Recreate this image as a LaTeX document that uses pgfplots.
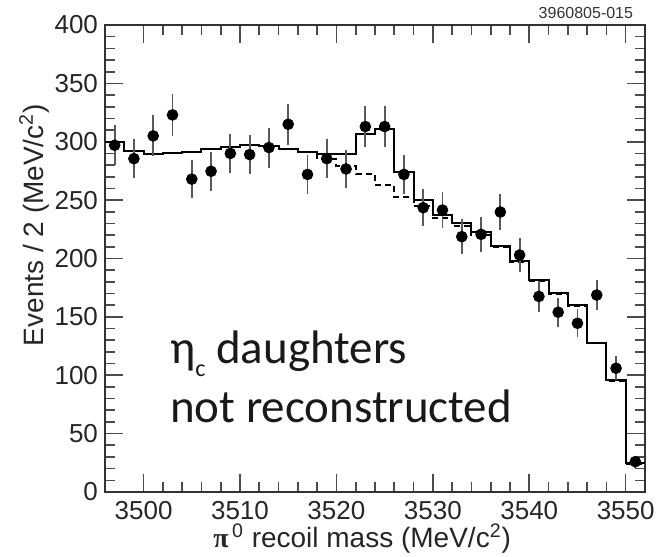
\documentclass[border=0pt]{standalone}
\usepackage{pgfplots}
\pgfplotsset{compat=1.18}
\usepackage{fontspec}
\setmainfont{Liberation Sans}
\newfontfamily\carlito{Carlito}
\newfontfamily\serifgr{Liberation Serif}

\begin{document}
\begin{tikzpicture}
\path[use as bounding box] (-52.5pt,-32.5pt) rectangle (278pt,246pt);
\begin{axis}[
  scale only axis,
  width=270pt, height=233.5pt,
  at={(0,0)}, anchor=south west,
  xmin=3496, xmax=3552, ymin=0, ymax=400,
  xtick={3500,3510,3520,3530,3540,3550},
  ytick={0,50,100,150,200,250,300,350,400},
  minor x tick num=4, minor y tick num=4,
  tick pos=both, xticklabel pos=lower, yticklabel pos=left,
  tick align=inside,
  major tick length=9pt, minor tick length=5pt,
  axis line style={line width=1pt, black!80},
  every tick/.style={black!70, line width=0.8pt},
  /pgf/number format/assume math mode=true,
  /pgf/number format/1000 sep={},
  tick label style={font=\fontsize{13}{15}\selectfont, black!85},
  xticklabel style={yshift=-1pt},
  ylabel={Events / 2 (MeV/c\textsuperscript{2})},
  ylabel style={at={(axis description cs:-0.131,0.846)}, anchor=east, font=\fontsize{14}{16}\selectfont, black!85},
  xlabel={{\serifgr\bfseries π}\textsuperscript{\,0} recoil mass (MeV/c\textsuperscript{2})},
  xlabel style={at={(axis description cs:0.765,-0.1)}, anchor=east, font=\fontsize{14}{16}\selectfont, black!85},
  clip=false,
]
% dashed histogram
\addplot[const plot, black, line width=1pt, dash pattern=on 3pt off 2pt] table {
x y
3516 291
3518 285
3520 279
3522 272
3524 263
3526 253
3528 245
3530 234.5
3532 228
3534 220.5
3536 210
3538 197
3540 181
3542 169.5
3544 159
3546 127.5
3548 95
3550 24
3552 24
};
% solid histogram
\addplot[const plot, black, line width=1pt] table {
x y
3496 300
3498 292
3500 289.5
3502 290
3504 291
3506 293.5
3508 295.5
3510 297
3512 296.5
3514 294
3516 291
3518 289.5
3520 289.5
3522 307
3524 311
3526 274
3528 250
3530 237
3532 230
3534 222.5
3536 211
3538 198
3540 182
3542 170.5
3544 160
3546 128
3548 95.5
3550 24.5
3552 24.5
};
% data points
\addplot[only marks, mark=*, mark size=2.7pt, black,
  error bars/.cd, y dir=both, y explicit, error mark=none,
  error bar style={black!65, line width=0.9pt}] table[x=x, y=y, y error=e] {
x y e
3497 297 17.2
3499 285.5 16.9
3501 305 17.5
3503 323 18.0
3505 268 16.4
3507 274.7 16.6
3509 290 17.0
3511 289 17.0
3513 295 17.2
3515 315 17.7
3517 272 16.5
3519 285.5 16.9
3521 276.7 16.6
3523 313 17.7
3525 313 17.7
3527 272 16.5
3529 243.5 15.6
3531 241.5 15.5
3533 218.7 14.8
3535 220.7 14.9
3537 239.8 15.5
3539 203 14.2
3541 167.5 12.9
3543 154 12.4
3545 144.5 12.0
3547 168.7 13.0
3549 106 10.3
3551 26 5.1
};
\node[anchor=base east, font=\fontsize{8}{9}\selectfont, black!80] at (axis description cs:0.991,1) [yshift=3.5pt] {3960805-015};
\node[anchor=base west, font=\carlito\fontsize{23.5}{26}\selectfont, inner sep=0pt, black!90] at (axis description cs:0.12,0.276) {η\raisebox{-0.28em}{\fontsize{12}{12}\selectfont c} daughters};
\node[anchor=base west, font=\carlito\fontsize{23.5}{26}\selectfont, inner sep=0pt, black!90] at (axis description cs:0.12,0.148) {not reconstructed};
\end{axis}
\end{tikzpicture}
\end{document}
